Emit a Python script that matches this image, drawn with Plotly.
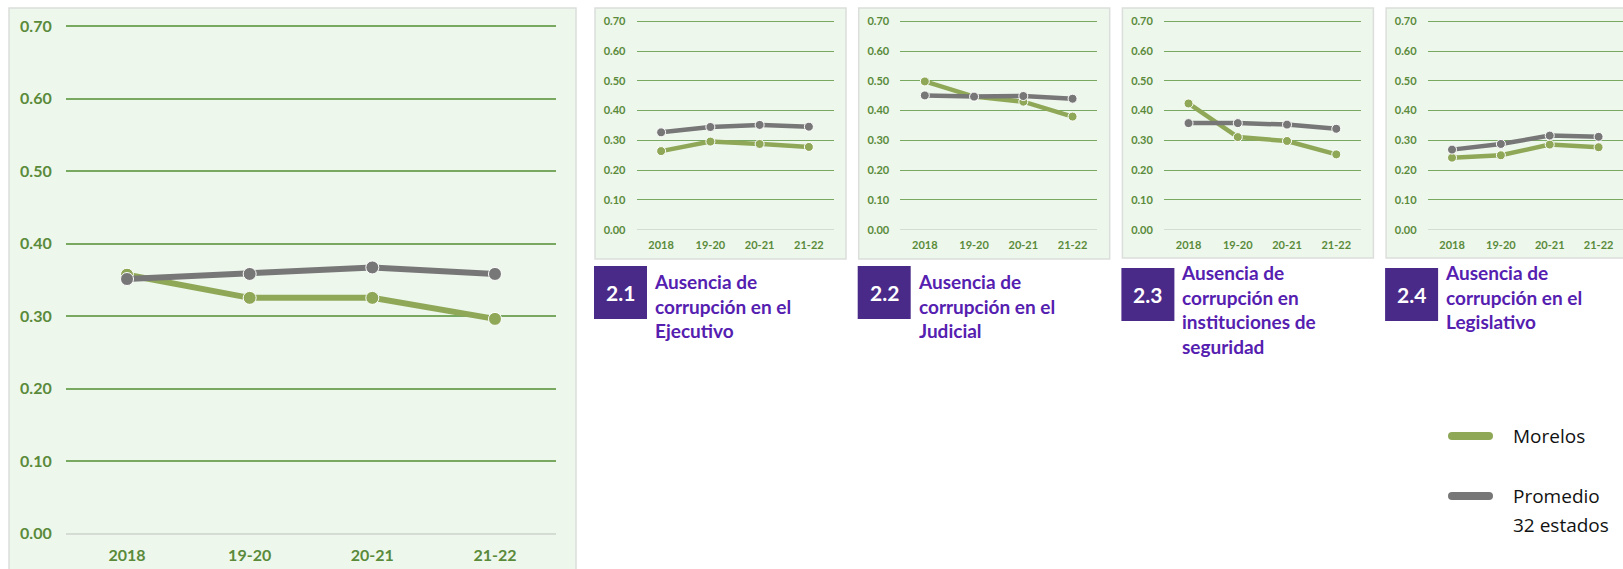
import plotly.graph_objects as go

W, H = 1623, 569

periods = ["2018", "19-20", "20-21", "21-22"]
series_names = ["Morelos", "Promedio 32 estados"]
y_ticks = [0.0, 0.1, 0.2, 0.3, 0.4, 0.5, 0.6, 0.7]

# pilar 2 (general)
main_morelos = [0.357, 0.325, 0.325, 0.296]
main_promedio = [0.351, 0.358, 0.367, 0.358]

# sub-factores
ejecutivo_morelos = [0.264, 0.296, 0.288, 0.278]
ejecutivo_promedio = [0.327, 0.345, 0.352, 0.346]
judicial_morelos = [0.498, 0.447, 0.430, 0.380]
judicial_promedio = [0.451, 0.447, 0.449, 0.440]
seguridad_morelos = [0.424, 0.311, 0.298, 0.253]
seguridad_promedio = [0.358, 0.358, 0.353, 0.339]
legislativo_morelos = [0.242, 0.250, 0.286, 0.277]
legislativo_promedio = [0.269, 0.288, 0.316, 0.312]

sub_codes = ["2.1", "2.2", "2.3", "2.4"]
sub_titles = [
    "Ausencia de<br>corrupción en el<br>Ejecutivo",
    "Ausencia de<br>corrupción en el<br>Judicial",
    "Ausencia de<br>corrupción en<br>instituciones de<br>seguridad",
    "Ausencia de<br>corrupción en el<br>Legislativo",
]
sub_morelos = [ejecutivo_morelos, judicial_morelos, seguridad_morelos, legislativo_morelos]
sub_promedio = [ejecutivo_promedio, judicial_promedio, seguridad_promedio, legislativo_promedio]

GREEN = "#8fa858"
GRAY = "#777777"
BG = "#edf7ec"
GRID = "#79a860"
TICK = "#5a8a3a"
PURPLE_BOX = "#4a2a88"
PURPLE_TXT = "#5520b0"
Y_RANGE = [-0.004, 0.704]


def fx(px):
    return px / W


def fy(px):
    return 1 - px / H


fig = go.Figure()
shapes = []
annotations = []


def add_panel(idx, morelos, promedio, x_left, x_right, y_top70, y_zero, font_size, lw, ms, grid_w, standoff_y, standoff_x):
    k = (y_zero - y_top70) / 0.7
    top = y_top70 - (Y_RANGE[1] - 0.7) * k
    bottom = y_zero - Y_RANGE[0] * k
    suffix = "" if idx == 1 else str(idx)
    for name, vals, color in [(series_names[0], morelos, GREEN), (series_names[1], promedio, GRAY)]:
        fig.add_trace(go.Scatter(
            x=periods, y=vals, name=name, mode="lines+markers",
            line=dict(color=color, width=lw),
            marker=dict(color=color, size=ms, line=dict(color="white", width=1)),
            xaxis="x" + suffix, yaxis="y" + suffix, showlegend=False,
        ))
    fig.layout["xaxis" + suffix] = dict(
        domain=[fx(x_left), min(fx(x_right), 1.0)], anchor="y" + suffix,
        type="category", range=[-0.5, 3.5], showgrid=False, zeroline=False, showline=False,
        tickfont=dict(family="Lato", size=font_size, color=TICK, weight="bold"),
        ticks="", ticklabelstandoff=standoff_x, automargin=False, fixedrange=True,
    )
    fig.layout["yaxis" + suffix] = dict(
        domain=[fy(bottom), fy(top)], anchor="x" + suffix,
        range=Y_RANGE, tickvals=y_ticks, tickformat=".2f",
        showgrid=True, gridcolor=GRID, gridwidth=grid_w,
        zeroline=True, zerolinecolor="#d5dcd3", zerolinewidth=grid_w,
        showline=False, ticks="", ticklabelstandoff=standoff_y,
        tickfont=dict(family="Lato", size=font_size, color=TICK, weight="bold"),
        automargin=False, fixedrange=True,
    )


# panel backgrounds
shapes.append(dict(type="rect", xref="paper", yref="paper", layer="below",
                   x0=fx(9), x1=fx(576), y0=fy(580), y1=fy(8),
                   fillcolor=BG, line=dict(color="#dcdedc", width=1.5)))

add_panel(1, main_morelos, main_promedio, 65.7, 556.3, 26, 533.5, 16, 6, 13, 2, 13, 8)

for i in range(4):
    box_l = 595 + 263.7 * i
    box_b = 259 if i < 2 else 258
    shapes.append(dict(type="rect", xref="paper", yref="paper", layer="below",
                       x0=fx(box_l), x1=fx(box_l + 251), y0=fy(box_b), y1=fy(8),
                       fillcolor=BG, line=dict(color="#dcdedc", width=1.5)))
    add_panel(i + 2, sub_morelos[i], sub_promedio[i], box_l + 41.5, box_l + 238.5,
              21.3, 229.7, 11, 4.5, 9, 1.3, 10, 6)

    # title block
    sq_top = 266 if i < 2 else 268
    sq_l = box_l - 1
    shapes.append(dict(type="rect", xref="paper", yref="paper",
                       x0=fx(sq_l), x1=fx(sq_l + 53), y0=fy(sq_top + 53), y1=fy(sq_top),
                       fillcolor=PURPLE_BOX, line=dict(width=0)))
    annotations.append(dict(xref="paper", yref="paper", x=fx(sq_l + 26.5), y=fy(sq_top + 26.5),
                            text=sub_codes[i], showarrow=False, xanchor="center", yanchor="middle",
                            font=dict(family="Lato", size=21, color="white", weight="bold")))
    title_center = [305.5, 305.5, 309.5, 296.5][i]
    annotations.append(dict(xref="paper", yref="paper", x=fx(sq_l + 58), y=fy(title_center),
                            text=sub_titles[i], showarrow=False, xanchor="left", yanchor="middle",
                            align="left",
                            font=dict(family="Lato", size=19, color=PURPLE_TXT, weight="bold")))

# legend
for j, (name, color) in enumerate([(series_names[0], GREEN), (series_names[1], GRAY)]):
    ly = 436 + 60 * j
    shapes.append(dict(type="line", xref="paper", yref="paper",
                       x0=fx(1452), x1=fx(1489), y0=fy(ly), y1=fy(ly),
                       line=dict(color=color, width=8)))
    for cx in (1452, 1489):
        shapes.append(dict(type="circle", xref="paper", yref="paper",
                           x0=fx(cx - 4), x1=fx(cx + 4), y0=fy(ly + 4), y1=fy(ly - 4),
                           fillcolor=color, line=dict(width=0)))
    for k, part in enumerate(name.split(" ", 1)):
        annotations.append(dict(xref="paper", yref="paper", x=fx(1511), y=fy(ly + 29 * k),
                                text=part, showarrow=False, xanchor="left", yanchor="middle",
                                font=dict(family="Open Sans", size=19, color="#111111")))

fig.update_layout(
    width=W, height=H,
    margin=dict(l=0, r=0, t=0, b=0, autoexpand=False),
    paper_bgcolor="white",
    plot_bgcolor="rgba(0,0,0,0)",
    shapes=shapes,
    annotations=annotations,
    showlegend=False,
)

# the page's default body margin would push the figure 8px in
fig.write_html(
    "out.html",
    config={"displayModeBar": False},
    post_script="document.body.style.margin='0';document.body.style.overflow='hidden';",
)
